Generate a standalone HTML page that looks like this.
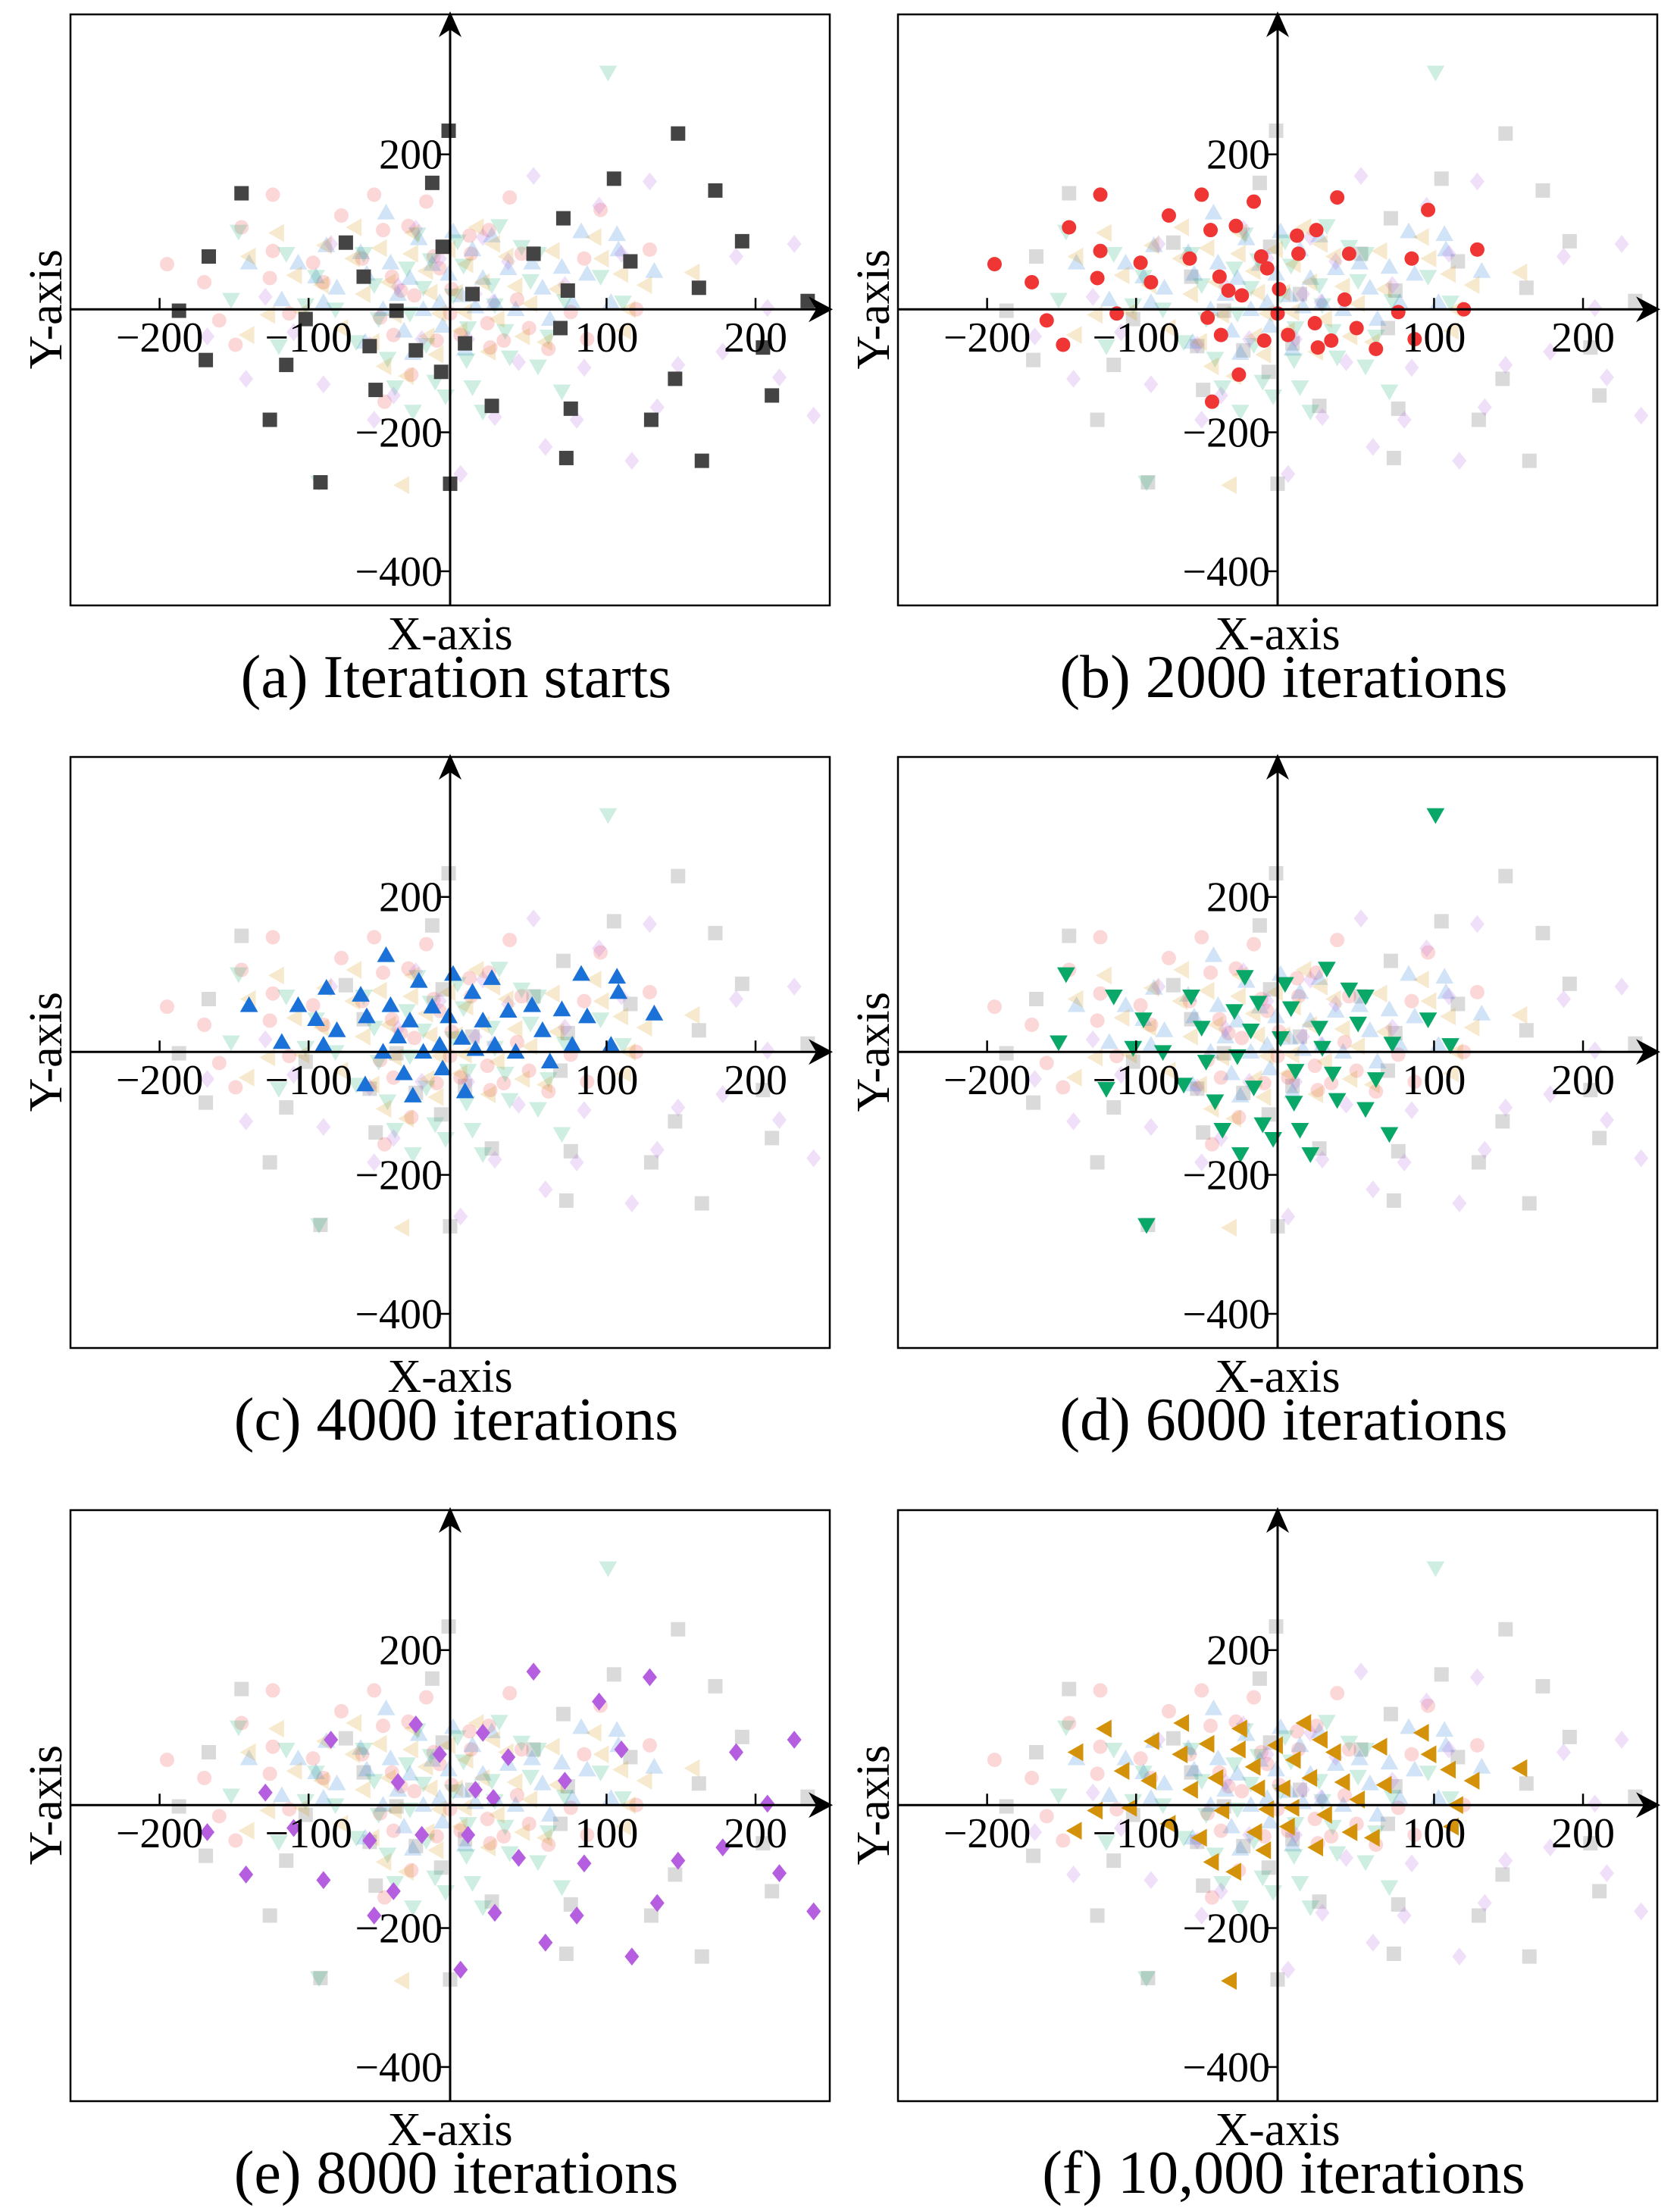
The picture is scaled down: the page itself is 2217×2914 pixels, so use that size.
<!DOCTYPE html>
<html><head><meta charset="utf-8"><style>
html,body{margin:0;padding:0;background:#fff;}
svg{display:block;font-family:"Liberation Serif",serif;}
</style></head><body>
<svg id="chart" width="2217" height="2914" viewBox="0 0 2217 2914" xmlns="http://www.w3.org/2000/svg" font-family="Liberation Serif, serif"></svg>
<script>
// Series data (x, y in data units, measured relative to the drawn axis lines)
const squareX=[-140,-162,-182,-164,-121,-110,-97,-70,-58,-54,-50,-36,-23,-12,-1,-5,-6,0,10,15,28,56,74,76,78,79,81,110,121,135,151,153,167,169,178,196,210,216,240,-87];
const squareY=[167,76,-2,-73,-159,-80,-14,96,47,-53,-116,-2,-59,182,257,90,-90,-251,-49,22,-139,80,-27,131,-214,27,-143,188,69,-159,-100,253,31,-218,171,98,-55,-124,12,-249];
const circleX=[-190,-165,-155,-144,-140,-119,-119,-121,-108,-92,-85,-73,-59,-51,-45,-44,-47,-39,-33,-38,-28,-26,-24,-16,-11,-9,-7,1,0,7,13,14,26,25,27,36,40,45,48,53,66,81,92,90,101,125,134];
const circleY=[65,39,-16,-51,118,165,84,45,-6,67,39,135,73,165,114,-133,-12,47,27,-37,120,-94,20,155,76,-45,59,29,-6,-37,106,80,114,-20,-55,-45,161,14,80,-27,-57,-4,-43,73,143,0,86];
const upX=[-135,-113,-102,-90,-83,-85,-76,-60,-56,-57,-45,-43,-40,-35,-31,-27,-25,-21,-18,-12,-7,-5,-1,2,8,10,15,17,22,28,30,39,44,55,62,67,75,82,88,92,108,112,113,137];
const upY=[67,14,67,47,92,10,31,82,51,-47,0,139,67,22,-31,45,-63,102,0,65,10,-24,51,112,20,-57,86,4,45,106,10,59,0,67,31,-14,61,10,112,51,10,108,86,55];
const downX=[106,-142,-147,-110,-97,-90,-115,-88,-77,-63,-58,-51,-48,-42,-37,-25,-27,-29,-22,-18,-16,-13,-10,-3,2,5,9,12,11,15,22,28,30,33,37,40,48,54,59,59,66,75,77,101,116];
const downY=[341,112,14,80,6,47,-53,-249,0,-47,80,35,-14,-71,-112,-147,-6,59,108,31,-51,71,-104,-125,20,98,63,-27,-73,-112,-147,35,6,120,-31,-69,90,41,80,-82,-39,-118,12,47,10];
const diamondX=[-163,-137,-124,-105,-85,-80,-54,-51,-38,-35,-23,-19,-7,7,12,17,22,29,30,39,46,56,64,77,85,90,100,115,122,134,139,153,183,192,213,221,231,244];
const diamondY=[-39,-100,18,-33,-108,94,-51,-159,-124,33,116,-43,73,-237,-43,22,104,10,-155,69,-76,192,-198,35,-159,-84,149,80,-218,184,-141,-80,-61,76,2,-98,94,-153];
const leftX=[-136,-135,-116,-122,-104,-99,-86,-84,-73,-65,-64,-58,-52,-47,-44,-41,-37,-32,-29,-26,-25,-16,-15,-13,-9,-7,-1,4,7,10,11,18,22,26,29,32,38,44,49,54,64,69,72,97,102,115,117,120,131,163];
const leftY=[-37,76,110,-8,49,-4,35,92,-27,73,118,22,-47,88,-82,39,-8,-253,-96,80,110,55,-39,24,-65,-6,86,24,-31,-4,65,118,39,-61,94,-14,76,33,-39,8,-47,84,29,104,73,51,-31,0,35,53];
const xTicks=[-200,-100,100,200];
const yTicks=[200,-200,-400];
const captions=["(a) Iteration starts","(b) 2000 iterations","(c) 4000 iterations","(d) 6000 iterations","(e) 8000 iterations","(f) 10,000 iterations"];

const series=[
 {name:'square',xs:squareX,ys:squareY,color:'#444444'},
 {name:'circle',xs:circleX,ys:circleY,color:'#f03535'},
 {name:'up-triangle',xs:upX,ys:upY,color:'#1a72d8'},
 {name:'down-triangle',xs:downX,ys:downY,color:'#0aa868'},
 {name:'diamond',xs:diamondX,ys:diamondY,color:'#b55ee0'},
 {name:'left-triangle',xs:leftX,ys:leftY,color:'#d4920a'}
];
const NS='http://www.w3.org/2000/svg';
const svg=document.getElementById('chart');
function mk(tag,attrs,parent){const e=document.createElementNS(NS,tag);for(const k in attrs)e.setAttribute(k,attrs[k]);(parent||svg).appendChild(e);return e;}
const W=1002,H=780,lefts=[93,1185],tops=[19,999,1993];
const SX=1.966,SY=0.917,R=9.5;
const tickOffX=5, tickOffY=23;
function marker(g,shape,cx,cy,color,op){
  let e;
  if(shape==='square') e=mk('rect',{x:cx-R,y:cy-R,width:2*R,height:2*R},g);
  else if(shape==='circle') e=mk('circle',{cx:cx,cy:cy,r:R},g);
  else {
    let p;
    const r=R*1.25;
    if(shape==='up-triangle') p=[[cx,cy-r],[cx+r,cy+r*0.75],[cx-r,cy+r*0.75]];
    else if(shape==='down-triangle') p=[[cx,cy+r],[cx+r,cy-r*0.75],[cx-r,cy-r*0.75]];
    else if(shape==='diamond') p=[[cx,cy-r],[cx+r*0.8,cy],[cx,cy+r],[cx-r*0.8,cy]];
    else p=[[cx-r,cy],[cx+r*0.75,cy-r],[cx+r*0.75,cy+r]];
    e=mk('polygon',{points:p.map(q=>q.join(',')).join(' ')},g);
  }
  e.setAttribute('fill',color);
  e.setAttribute('fill-opacity',op);
  
  
}
for(let i=0;i<6;i++){
  const L=lefts[i%2],T=tops[Math.floor(i/2)];
  const ox=L+W*0.5, oy=T+H*0.499;
  const sx=v=>ox+v*SX, sy=v=>oy-v*SY;
  const g=mk('g',{});
  
  
  const fr=mk('rect',{x:L,y:T,width:W,height:H,fill:'none',stroke:'#000','stroke-width':2.5},g);
  
  
  const order=[];for(let s=0;s<6;s++) if(s!==i) order.push(s); order.push(i);
  for(const s of order){
    const se=series[s];
    const sg=mk('g',{},g);
    
    
    for(let k=0;k<se.xs.length;k++){
      marker(sg,se.name,sx(se.xs[k]),sy(se.ys[k]),se.color,s===i?1:0.2);
    }
  }
  const xa=mk('line',{x1:L,y1:oy,x2:L+W-4,y2:oy,stroke:'#000','stroke-width':3},g);
  
  const xh=mk('polygon',{points:`${L+W+4},${oy} ${L+W-28},${oy-17} ${L+W-18},${oy} ${L+W-28},${oy+17}`,fill:'#000'},g);
  
  const ya=mk('line',{x1:ox,y1:T+H,x2:ox,y2:T+4,stroke:'#000','stroke-width':3},g);
  
  const yh=mk('polygon',{points:`${ox},${T-4} ${ox-15},${T+30} ${ox},${T+20} ${ox+15},${T+30}`,fill:'#000'},g);
  
  for(const t of xTicks){
    const px=sx(t+tickOffX);
    mk('line',{x1:px,y1:oy,x2:px,y2:oy-15,stroke:'#000','stroke-width':2.5},g);
    const tx=mk('text',{x:px,y:oy+56,'font-size':56,'text-anchor':'middle','font-family':'Liberation Serif, serif'},g);
    tx.textContent=(t<0?'\u2212':'')+Math.abs(t);
    
  }
  for(const t of yTicks){
    const py=sy(t+tickOffY);
    mk('line',{x1:ox,y1:py,x2:ox-14,y2:py,stroke:'#000','stroke-width':2.5},g);
    const ty=mk('text',{x:ox-10,y:py+19,'font-size':56,'text-anchor':'end','font-family':'Liberation Serif, serif'},g);
    ty.textContent=(t<0?'\u2212':'')+Math.abs(t);
    
  }
  const xl=mk('text',{x:ox,y:T+838,'font-size':62,'text-anchor':'middle','font-family':'Liberation Serif, serif'},g);
  xl.textContent='X-axis';
  
  const yl=mk('text',{x:L-32,y:oy,'font-size':62,'text-anchor':'middle','font-family':'Liberation Serif, serif',transform:`rotate(-90 ${L-32} ${oy}) translate(0 20)`},g);
  yl.textContent='Y-axis';
  
  const cp=mk('text',{x:ox+8,y:T+901,'font-size':80,'text-anchor':'middle','font-family':'Liberation Serif, serif'},g);
  cp.textContent=captions[i];
  
}
</script>
</body></html>
